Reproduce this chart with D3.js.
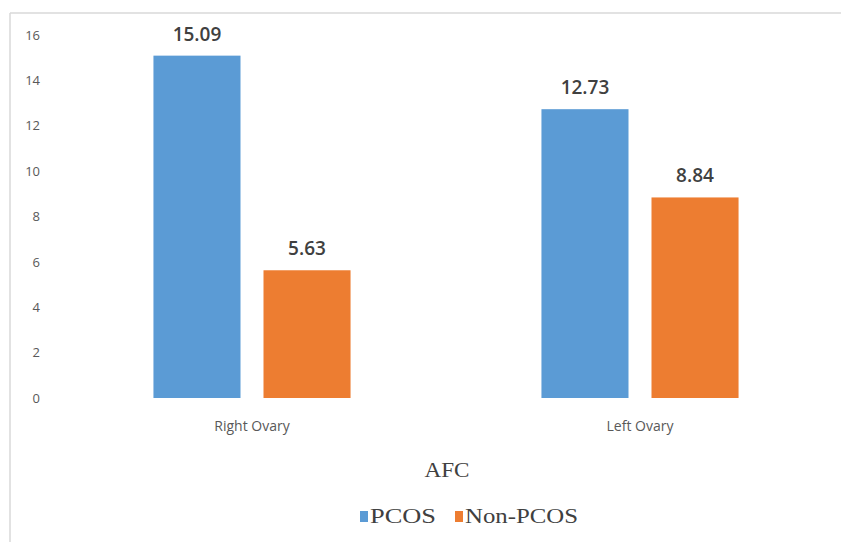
<!DOCTYPE html>
<meta charset="utf-8">
<title>AFC</title>
<script src="https://d3js.org/d3.v7.min.js"></script>
<style>
  body { margin: 0; background: #fff; }
</style>
<body>
<script>

var w = 841
var h = 542

// data
var categories = ["Right Ovary", "Left Ovary"]
var seriesNames = ["PCOS", "Non-PCOS"]
var pcos = [15.09, 12.73]
var nonPcos = [5.63, 8.84]
var yTicks = [0, 2, 4, 6, 8, 10, 12, 14, 16]
var colors = ["#5B9BD5", "#ED7D31"]

var svg = d3.select("body")
  .append("svg")
  .attr("width", w)
  .attr("height", h)

// chart frame (only top and left edge visible)
svg.append("line").attr("x1", 10).attr("x2", w).attr("y1", 13).attr("y2", 13)
  .attr("stroke", "#d9d9d9").attr("stroke-width", 1.5)
svg.append("line").attr("x1", 10).attr("x2", 10).attr("y1", 13).attr("y2", h)
  .attr("stroke", "#d9d9d9").attr("stroke-width", 1.5)

var x0 = d3.scaleBand()
  .domain(categories)
  .range([58, 834])
  .paddingInner(0.492)
  .paddingOuter(0.246)

var x1 = d3.scaleBand()
  .domain(seriesNames)
  .range([0, x0.bandwidth()])
  .paddingInner(0.209)

var y = d3.scaleLinear()
  .domain([0, 16])
  .range([398, 35])

// y tick labels
var yAxis = d3.axisLeft(y).tickValues(yTicks).tickSize(0).tickPadding(0)
var gy = svg.append("g").attr("transform", "translate(40,0)").call(yAxis)
gy.select(".domain").remove()
gy.selectAll("text")
  .attr("font-family", "Open Sans, sans-serif")
  .attr("font-size", 13)
  .attr("fill", "#595959")

var rows = categories.map(function(c, i) {
  return { cat: c, values: [{ key: "PCOS", v: pcos[i] }, { key: "Non-PCOS", v: nonPcos[i] }] }
})

var groups = svg.append("g").selectAll("g")
  .data(rows)
  .enter().append("g")
  .attr("transform", function(d) { return "translate(" + x0(d.cat) + ",0)" })

groups.selectAll("rect")
  .data(function(d) { return d.values })
  .enter().append("rect")
  .attr("x", function(d) { return x1(d.key) })
  .attr("y", function(d) { return y(d.v) })
  .attr("width", x1.bandwidth())
  .attr("height", function(d) { return y(0) - y(d.v) })
  .attr("fill", function(d, i) { return colors[i] })

groups.selectAll("text.val")
  .data(function(d) { return d.values })
  .enter().append("text")
  .attr("class", "val")
  .attr("x", function(d) { return x1(d.key) + x1.bandwidth() / 2 })
  .attr("y", function(d) { return y(d.v) - 15 })
  .attr("text-anchor", "middle")
  .attr("font-family", "Open Sans, sans-serif")
  .attr("font-size", 19)
  .attr("font-weight", 600)
  .attr("fill", "#404040")
  .text(function(d) { return d.v.toFixed(2) })

// category labels
var xAxis = d3.axisBottom(x0).tickSize(0).tickPadding(0)
var gx = svg.append("g").attr("transform", "translate(0,421)").call(xAxis)
gx.select(".domain").remove()
gx.selectAll("text")
  .attr("font-family", "Open Sans, sans-serif")
  .attr("font-size", 14)
  .attr("fill", "#595959")

// axis title
svg.append("text")
  .attr("x", 447)
  .attr("y", 477)
  .attr("text-anchor", "middle")
  .attr("font-family", "Liberation Serif, serif")
  .attr("font-size", 20)
  .attr("textLength", 45)
  .attr("lengthAdjust", "spacingAndGlyphs")
  .attr("fill", "#404040")
  .text("AFC")

// legend
var legend = svg.append("g")
var lx = [360, 455]
var lw = [66, 113]
seriesNames.forEach(function(s, i) {
  legend.append("rect")
    .attr("x", lx[i]).attr("y", 511)
    .attr("width", 8).attr("height", 11)
    .attr("fill", colors[i])
  legend.append("text")
    .attr("x", lx[i] + 10).attr("y", 523)
    .attr("font-family", "Liberation Serif, serif")
    .attr("font-size", 20)
    .attr("textLength", lw[i])
    .attr("lengthAdjust", "spacingAndGlyphs")
    .attr("fill", "#404040")
    .text(s)
})

</script>
</body>
